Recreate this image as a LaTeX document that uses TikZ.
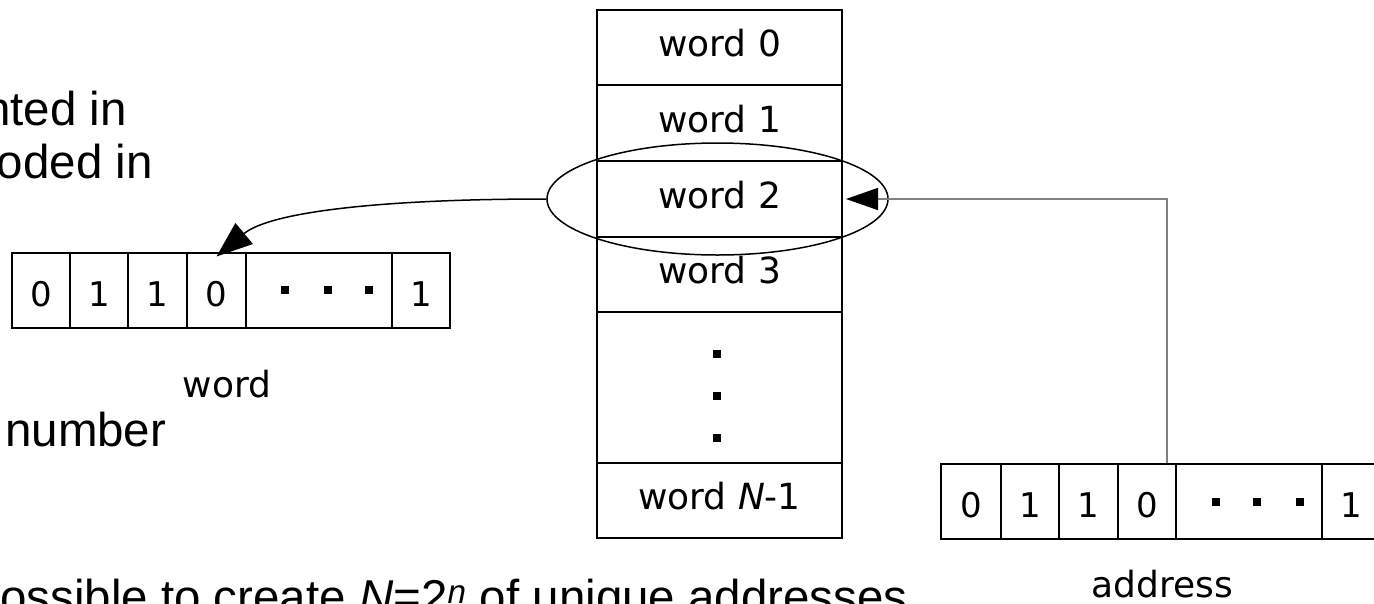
\documentclass[tikz,border=0pt]{standalone}
\usepackage{fontspec}
\setmainfont{Liberation Sans}
\newfontfamily\vfont{DejaVu Sans}
\usetikzlibrary{shapes.geometric,arrows.meta}

\tikzset{
  row/.style={draw, line width=2pt, minimum width=245pt, inner sep=0pt,
    font=\vfont\fontsize{36}{40}\selectfont, text height=27.4pt, text depth=8.6pt},
  bit/.style={draw, line width=2pt, minimum height=75pt, inner sep=0pt,
    font=\vfont\fontsize{34}{40}\selectfont, text height=32pt, text depth=0pt},
  caption/.style={font=\vfont\fontsize{36}{40}\selectfont, inner sep=0pt, anchor=base},
  slidetext/.style={font=\fontsize{47.5}{55}\selectfont, inner sep=0pt},
  sq/.style={fill=black, minimum size=8pt, inner sep=0pt},
  link/.style={line width=1.5pt},
}

\begin{document}
\begin{tikzpicture}[x=1pt, y=-1pt]
\useasboundingbox (0,0) rectangle (1374,603);
\clip (0,0) rectangle (1374,603);

% memory column
\node[row, minimum height=75pt] (r0) at (719.5,47.5) {word 0};
\node[row, minimum height=76pt] (r1) at (719.5,123) {word 1};
\node[row, minimum height=76pt] (r2) at (719.5,199) {word 2};
\node[row, minimum height=75pt] (r3) at (719.5,274.5) {word 3};
\node[row, minimum height=151pt] (r4) at (719.5,387.5) {};
\node[row, minimum height=75pt] (r5) at (719.5,500.5) {word {\itshape N}-1};
\node[sq] (vd1) at (717,354) {};
\node[sq] (vd2) at (717,396) {};
\node[sq] (vd3) at (717,438) {};

% selected word
\node[draw, ellipse, line width=1.5pt, minimum width=341pt, minimum height=112pt] (sel) at (717.5,199) {};

% word register
\node[bit, minimum width=58pt] (b0) at (41,290) {0};
\node[bit, minimum width=58pt] (b1) at (99,290) {1};
\node[bit, minimum width=59pt] (b2) at (157.5,290) {1};
\node[bit, minimum width=59pt] (b3) at (216.5,290) {0};
\node[bit, minimum width=146pt] (b4) at (319,290) {};
\node[bit, minimum width=58pt] (b5) at (421,290) {1};
\node[sq] (wd1) at (285,290) {};
\node[sq] (wd2) at (328,290) {};
\node[sq] (wd3) at (369,290) {};
\node[caption] (wlab) at (227,397) {word};

% address register
\node[bit, minimum width=60pt] (a0) at (971,501) {0};
\node[bit, minimum width=58pt] (a1) at (1030,501) {1};
\node[bit, minimum width=59pt] (a2) at (1088.5,501) {1};
\node[bit, minimum width=58pt] (a3) at (1147,501) {0};
\node[bit, minimum width=146pt] (a4) at (1249,501) {};
\node[bit, minimum width=59pt] (a5) at (1351.5,501) {1};
\node[sq] (ad1) at (1216,502) {};
\node[sq] (ad2) at (1257,502) {};
\node[sq] (ad3) at (1300,502) {};
\node[caption] (alab) at (1162,597) {address};

% connectors
\coordinate (tap) at ([xshift=20pt]a3.north);
\draw[link, draw=black!50, -{Triangle[length=32pt, width=22pt, fill=black, color=black]}]
  (tap) |- ([xshift=3pt]r2.east);
\draw[link, -{Triangle[length=36pt, width=27pt]}]
  (sel.west) .. controls (380,199) and (270,212) .. ([yshift=-5pt]b3.north);

% slide text
\node[slidetext, anchor=base east] (t1) at (127,125) {nted in};
\node[slidetext, anchor=base east] (t2) at (153,178) {oded in};
\node[slidetext, anchor=base west] (t3) at (5,446) {number};
\node[slidetext, anchor=base west] (t4) at (0,613)
  {ossible to create {\itshape N}=2\textsuperscript{\itshape n} of unique addresses};
\end{tikzpicture}
\end{document}
